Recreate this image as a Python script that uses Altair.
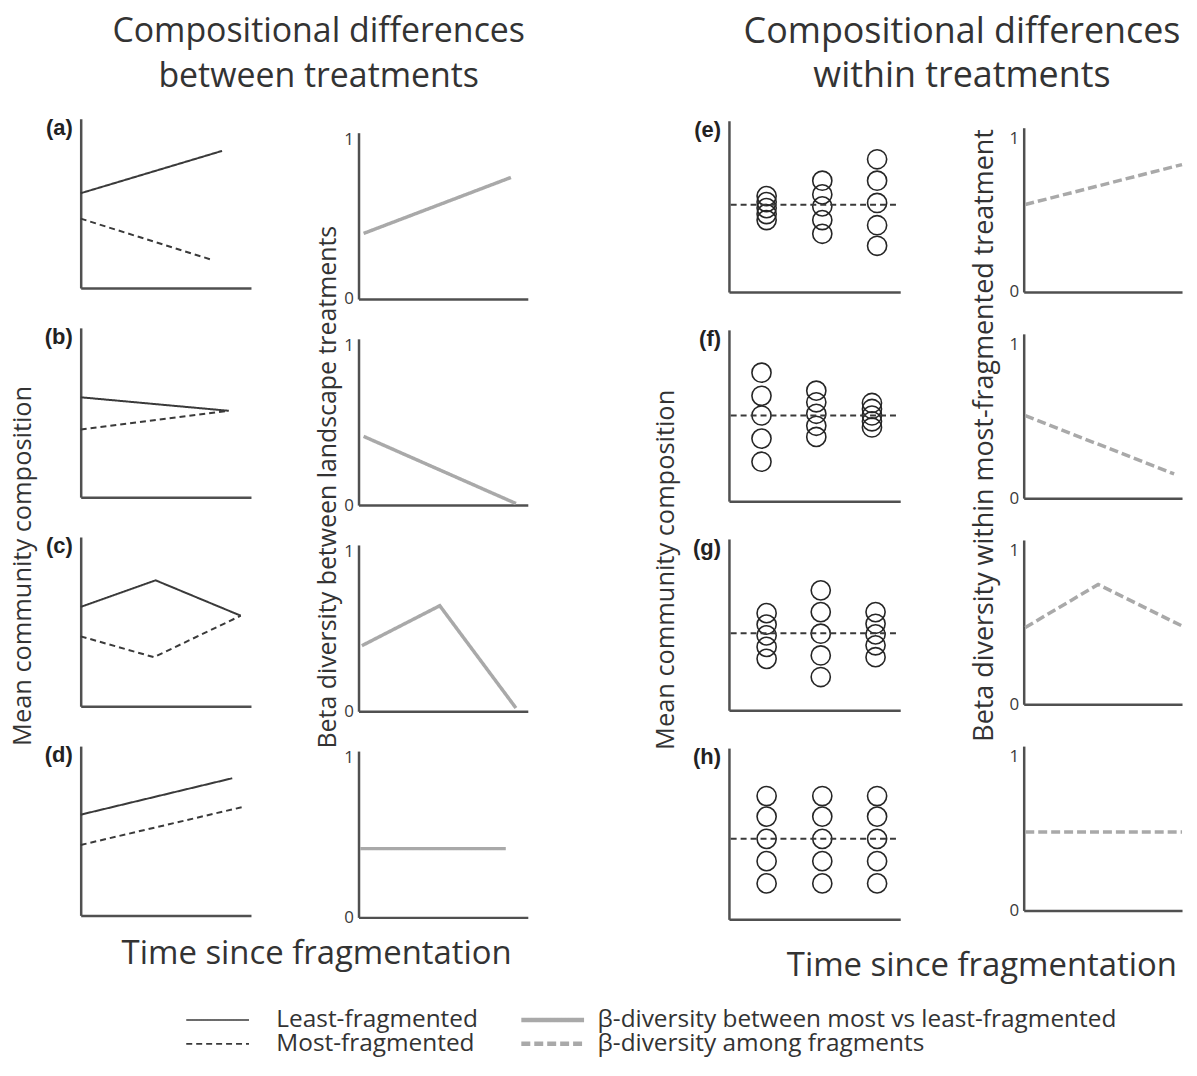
import altair as alt
import pandas as pd

FONT = "Open Sans"
INK = "#333333"
AXIS_COLOR = "#505050"

LEAST = "Least-fragmented"
MOST = "Most-fragmented"
BETWEEN = "β-diversity between most vs least-fragmented"
AMONG = "β-diversity among fragments"
series_order = [LEAST, MOST, BETWEEN, AMONG]
series_colors = ["#3a3a3a", "#3a3a3a", "#a9a9a9", "#a9a9a9"]
series_dashes = [[1, 0], [6, 4], [1, 0], [9, 4]]

title_left = ["Compositional differences", "between treatments"]
title_right = ["Compositional differences", "within treatments"]
ytitle_comp = "Mean community composition"
ytitle_between = "Beta diversity between landscape treatments"
ytitle_within = "Beta diversity within most-fragmented  treatment"
xtitle = "Time since fragmentation"

# legend key: two columns of two entries
legend_series = [LEAST, MOST, BETWEEN, AMONG]
legend_col = [0, 0, 1, 1]
legend_row = [0, 1, 0, 1]

# (a)-(d): mean community composition of the two treatments
comp_panels = ["(a)", "(b)", "(c)", "(d)"]
comp_least_t = [[0, 0.83], [0, 0.87], [0, 0.44, 0.94], [0, 0.89]]
comp_least_v = [[0.56, 0.81], [0.59, 0.51], [0.587, 0.744, 0.535], [0.595, 0.81]]
comp_most_t = [[0, 0.76], [0, 0.87], [0, 0.43, 0.94], [0, 0.95]]
comp_most_v = [[0.41, 0.17], [0.40, 0.51], [0.413, 0.29, 0.535], [0.416, 0.64]]

# beta diversity between treatments
betw_t = [[0.03, 0.90], [0.03, 0.93], [0.02, 0.48, 0.93], [0.01, 0.87]]
betw_v = [[0.41, 0.76], [0.43, 0.01], [0.41, 0.66, 0.02], [0.43, 0.43]]

# (e)-(h): fragments within the most-fragmented treatment
frag_panels = ["(e)", "(f)", "(g)", "(h)"]
frag_times = [[0.22, 0.545, 0.865], [0.19, 0.51, 0.835], [0.22, 0.536, 0.856], [0.22, 0.545, 0.865]]
frag_values = [
    [[0.42, 0.455, 0.49, 0.525, 0.56], [0.34, 0.42, 0.50, 0.57, 0.65], [0.27, 0.39, 0.52, 0.65, 0.775]],
    [[0.23, 0.365, 0.50, 0.615, 0.75], [0.375, 0.44, 0.51, 0.577, 0.645], [0.43, 0.466, 0.50, 0.538, 0.573]],
    [[0.30, 0.37, 0.437, 0.50, 0.567], [0.194, 0.32, 0.447, 0.573, 0.70], [0.31, 0.379, 0.443, 0.505, 0.573]],
    [[0.21, 0.34, 0.47, 0.60, 0.72], [0.21, 0.34, 0.47, 0.60, 0.72], [0.21, 0.34, 0.47, 0.60, 0.72]],
]
frag_mean = [0.51, 0.50, 0.45, 0.47]
mean_t = [0.01, 0.99]

# beta diversity within the most-fragmented treatment
within_t = [[0.01, 1.0], [0.01, 0.95], [0.01, 0.47, 1.0], [0.01, 1.0]]
within_v = [[0.57, 0.83], [0.537, 0.158], [0.50, 0.78, 0.51], [0.51, 0.51]]

COLOR_SCALE = alt.Scale(domain=series_order, range=series_colors)
DASH_SCALE = alt.Scale(domain=series_order, range=series_dashes)


def plain_axis():
    return alt.Axis(title=None, labels=False, ticks=False, grid=False,
                    domainColor=AXIS_COLOR, domainWidth=2.5)


def unit_axis():
    return alt.Axis(title=None, values=[0, 1], format="d", labels=True, ticks=False, tickSize=0,
                    grid=False, domainColor=AXIS_COLOR, domainWidth=2.5, labelFont=FONT,
                    labelFontSize=17, labelColor="#3a3a3a", labelPadding=5, labelFlush=False)


def xenc():
    return alt.X("t:Q", scale=alt.Scale(domain=[0, 1], nice=False, zero=False), axis=plain_axis())


def yenc(domain, axis):
    return alt.Y("v:Q", scale=alt.Scale(domain=domain, nice=False, zero=False), axis=axis)


def color_enc():
    return alt.Color("series:N", scale=COLOR_SCALE, legend=None)


def dash_enc():
    return alt.StrokeDash("series:N", scale=DASH_SCALE, legend=None)


def line_layer(df, ydomain, yaxis, width_px):
    return alt.Chart(df).mark_line(strokeWidth=width_px, strokeCap="butt").encode(
        x=xenc(), y=yenc(ydomain, yaxis), color=color_enc(), strokeDash=dash_enc(),
    )


def panel_tag(tag):
    return alt.Chart(pd.DataFrame({"tag": [tag]})).mark_text(
        font="Liberation Sans", fontWeight="bold", fontSize=22, align="right",
        baseline="middle", color="#222222"
    ).encode(text="tag:N", x=alt.value(-8), y=alt.value(9))


def series_df(pairs):
    rows = []
    for name, ts, vs in pairs:
        rows += [{"series": name, "t": t, "v": v} for t, v in zip(ts, vs)]
    return pd.DataFrame(rows)


def comp_panel(i):
    df = series_df([(LEAST, comp_least_t[i], comp_least_v[i]), (MOST, comp_most_t[i], comp_most_v[i])])
    return alt.layer(line_layer(df, [0, 1], plain_axis(), 2), panel_tag(comp_panels[i])).properties(width=171, height=170)


def between_panel(i):
    df = series_df([(BETWEEN, betw_t[i], betw_v[i])])
    return line_layer(df, [0, 1.04], unit_axis(), 3.5).properties(width=170, height=167)


def frag_panel(i):
    pts = pd.DataFrame([{"t": frag_times[i][k], "v": v} for k in range(3) for v in frag_values[i][k]])
    mean = series_df([(MOST, mean_t, [frag_mean[i], frag_mean[i]])])
    points = alt.Chart(pts).mark_point(shape="circle", filled=False, size=370, stroke="#262626",
                                       strokeWidth=1.6, opacity=1).encode(x=xenc(), y=yenc([0, 1], plain_axis()))
    return alt.layer(points, line_layer(mean, [0, 1], plain_axis(), 2), panel_tag(frag_panels[i])).properties(width=172, height=172)


def within_panel(i):
    df = series_df([(AMONG, within_t[i], within_v[i])])
    return line_layer(df, [0, 1.07], unit_axis(), 3.5).properties(width=159, height=165)


def text_layer(text, x, y, size, angle=0):
    return alt.Chart(pd.DataFrame({"text": [text]})).mark_text(
        font=FONT, fontSize=size, angle=angle, align="center", baseline="middle", color=INK
    ).encode(text="text:N", x=alt.value(x), y=alt.value(y))


def spacer(w, h):
    return alt.Chart(pd.DataFrame({"text": [""]})).mark_text(fontSize=4).encode(
        text="text:N", x=alt.value(w / 2), y=alt.value(h / 2)).properties(width=w, height=h)


def column(width, lead, gap, panels):
    items = [spacer(width, lead)]
    for k, p in enumerate(panels):
        if k > 0:
            items.append(spacer(width, gap))
        items.append(p)
    return alt.vconcat(*items, spacing=0, bounds="flush")


title_chart = alt.layer(
    text_layer(title_left[0], 312, 22, 34),
    text_layer(title_left[1], 312, 67, 34),
    text_layer(title_right[0], 958, 22, 36),
    text_layer(title_right[1], 958, 66, 36),
).properties(width=1176, height=88)

ycolA = text_layer(ytitle_comp, 15, 470, 25.5, 270).properties(width=36, height=830)
ycolB = text_layer(ytitle_between, 77, 391, 25, 270).properties(width=93, height=830)
ycolC = text_layer(ytitle_comp, 139, 474, 25.5, 270).properties(width=165, height=830)
ycolD = text_layer(ytitle_within, 82, 339, 27, 270).properties(width=106, height=830)

col1 = column(171, 21, 40, [comp_panel(i) for i in range(4)])
col2 = column(170, 35, 40, [between_panel(i) for i in range(4)])
col3 = column(172, 23, 38, [frag_panel(i) for i in range(4)])
col4 = column(159, 30, 42, [within_panel(i) for i in range(4)])

main = alt.hconcat(ycolA, col1, ycolB, col2, ycolC, col3, ycolD, col4, spacing=0)

# footer: axis titles and the line-style key
leg_df = pd.DataFrame({"series": legend_series, "col": legend_col, "row": legend_row})
LX = alt.X("col:O", scale=alt.Scale(type="point", domain=[0, 1], range=[210.5, 547], padding=0), axis=None)
LY = alt.Y("row:O", scale=alt.Scale(type="point", domain=[0, 1], range=[95, 119], padding=0), axis=None)

leg_symbols = alt.Chart(leg_df).mark_point(shape="M-1,0L1,0", size=3969, filled=False, opacity=1).encode(
    x=LX, y=LY, color=color_enc(), strokeDash=dash_enc(),
    strokeWidth=alt.condition("datum.col == 0", alt.value(1.6), alt.value(4.5)),
)
leg_labels_left = alt.Chart(leg_df).transform_filter("datum.col == 0").mark_text(
    align="left", baseline="middle", dx=59, font=FONT, fontSize=24.5, color=INK
).encode(x=LX, y=LY, text="series:N")
leg_labels_right = alt.Chart(leg_df).transform_filter("datum.col == 1").mark_text(
    align="left", baseline="middle", dx=45, font=FONT, fontSize=24.5, color=INK
).encode(x=LX, y=LY, text="series:N")

footer = alt.layer(
    text_layer(xtitle, 310, 29, 33),
    text_layer(xtitle, 978, 41, 33),
    leg_symbols, leg_labels_left, leg_labels_right,
).properties(width=1176, height=132)

chart = alt.vconcat(title_chart, main, footer, spacing=0).properties(
    padding=0
).configure_view(strokeWidth=0)

chart.save("out.html", embed_options={"renderer": "svg", "actions": False})
